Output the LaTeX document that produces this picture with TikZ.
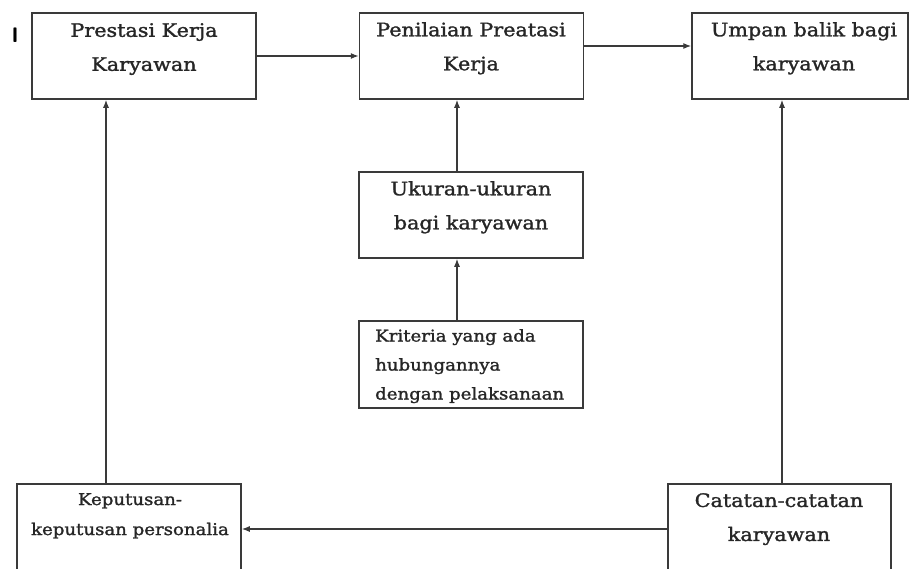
\documentclass[tikz,border=0pt]{standalone}
\usepackage{fontspec}
\setmainfont[FakeStretch=1.12,FakeBold=1.5]{DejaVu Serif}
\usetikzlibrary{arrows.meta}
\definecolor{boxc}{HTML}{3A3A3A}
\definecolor{txtc}{HTML}{262626}
\begin{document}
\begin{tikzpicture}[x=1pt,y=-1pt,
  box/.style={draw=boxc, line width=1.5pt, rectangle, inner sep=0pt},
  lbl/.style={text=txtc, align=center, inner sep=0pt, anchor=north, font=\fontsize{18.5}{34}\selectfont},
  slbl/.style={text=txtc, align=left, inner sep=0pt, anchor=north west, font=\fontsize{16.2}{29}\selectfont},
  conn/.style={draw=boxc, line width=1.3pt, -{Latex[length=8pt,width=6pt]}}]
\clip (0,0) rectangle (909,568);
\fill[white] (0,0) rectangle (909,568);
% boxes
\node[box, minimum width=224pt, minimum height=86pt] (b1) at (144,56) {};
\node[box, minimum width=224pt, minimum height=86pt] (b2) at (471.5,56) {};
\node[box, minimum width=216pt, minimum height=86pt] (b3) at (800,56) {};
\node[box, minimum width=224pt, minimum height=86pt] (b4) at (471,215) {};
\node[box, minimum width=224pt, minimum height=87pt] (b5) at (471,364.5) {};
\node[box, minimum width=224pt, minimum height=112pt] (b6) at (129,540) {};
\node[box, minimum width=223pt, minimum height=112pt] (b7) at (779.5,540) {};
% labels
\node[lbl] (t1) at (144,23) {Prestasi Kerja\\Karyawan};
\node[lbl] (t2) at (471,22) {Penilaian Preatasi\\Kerja};
\node[lbl] (t3) at (804,22) {Umpan balik bagi\\karyawan};
\node[lbl] (t4) at (471,181) {Ukuran-ukuran\\bagi karyawan};
\node[slbl] (t5) at (375,329) {Kriteria yang ada\\hubungannya\\dengan pelaksanaan};
\node[lbl, font=\fontsize{16.2}{30}\selectfont] (t6) at (130,493) {Keputusan-\\keputusan personalia};
\node[lbl] (t7) at (779,493) {Catatan-catatan\\karyawan};
\node[text=black, font=\sffamily\bfseries\fontsize{21}{21}\selectfont, inner sep=0pt] (mark) at (15,35) {I};
% connectors
\draw[conn] (b1.east) -- (b2.west);
\draw[conn] ([yshift=10pt]b2.east) -- ([yshift=10pt]b3.west);
\draw[conn] ([xshift=-14pt]b4.north) -- ([xshift=-14pt]b4.north |- b2.south);
\draw[conn] ([xshift=-14pt]b5.north) -- ([xshift=-14pt]b5.north |- b4.south);
\draw[conn] ([xshift=-23pt]b6.north) -- ([xshift=-23pt]b6.north |- b1.south);
\draw[conn] ([xshift=2.5pt]b7.north) -- ([xshift=2.5pt]b7.north |- b3.south);
\draw[conn] ([yshift=11pt]b7.west) -- ([yshift=11pt]b7.west -| b6.east);
\end{tikzpicture}
\end{document}
